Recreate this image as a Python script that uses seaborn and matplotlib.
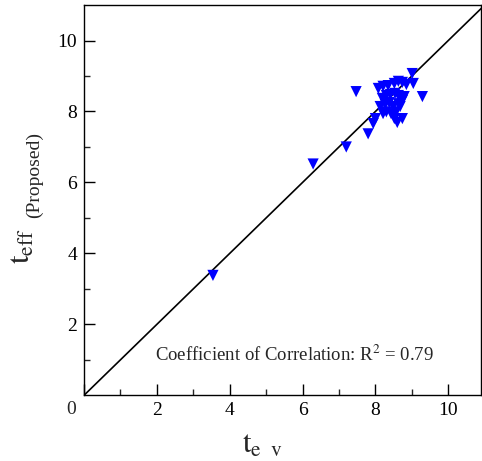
import matplotlib
matplotlib.use("Agg")
import matplotlib.pyplot as plt
import seaborn as sns
import pandas as pd
import numpy as np

# Data
t_ev = [3.54, 6.29, 7.20, 7.47, 7.80, 7.94, 8.00, 9.01, 9.04, 9.29,
        8.08, 8.21, 8.35, 8.52, 8.63, 8.74, 8.85,
        8.19, 8.30, 8.41, 8.54, 8.63, 8.27, 8.38, 8.49, 8.63, 8.74,
        8.30, 8.43, 8.57, 8.68, 8.52, 8.60, 8.74, 8.21, 8.13, 8.79]
t_eff = [3.38, 6.52, 7.00, 8.56, 7.37, 7.66, 7.80, 9.07, 8.79, 8.42,
         8.65, 8.71, 8.73, 8.79, 8.85, 8.82, 8.76,
         8.37, 8.45, 8.48, 8.51, 8.45, 8.20, 8.25, 8.14, 8.22, 8.31,
         7.99, 7.94, 7.99, 8.14, 7.80, 7.69, 7.80, 7.94, 8.14, 8.42]
line_x = [0, 11]
line_y = [0, 11]
x_ticks = [0, 2, 4, 6, 8, 10]
y_ticks = [2, 4, 6, 8, 10]
annotation = "Coefficient of Correlation: R$^2$ = 0.79"

sns.set_theme(style="white")
plt.rcParams['font.family'] = ['Liberation Serif', 'DejaVu Serif']
plt.rcParams['mathtext.fontset'] = 'stix'

df = pd.DataFrame({"t_ev": t_ev, "t_eff": t_eff})
ldf = pd.DataFrame({"x": line_x, "y": line_y})

fig = plt.figure(figsize=(4.82, 4.61), dpi=100)
ax = fig.add_axes([0.1743, 0.1425, 0.998 - 0.1743, 0.989 - 0.1425])

sns.lineplot(data=ldf, x="x", y="y", color="black", linewidth=1.2, ax=ax)
sns.scatterplot(data=df, x="t_ev", y="t_eff", marker="v", color="#0000ff",
                s=65, edgecolor="none", linewidth=0, ax=ax, zorder=3)

ax.set_xlim(0, 10.9)
ax.set_ylim(0, 11)
ax.set_xticks(x_ticks)
ax.set_yticks(y_ticks)
ax.set_xticks(np.arange(1, 11, 2), minor=True)
ax.set_yticks(np.arange(1, 11, 2), minor=True)
ax.set_xticklabels(["" if v == 0 else str(v) for v in x_ticks])
ax.set_yticklabels([str(v) for v in y_ticks])
ax.tick_params(axis="both", which="major", direction="in", length=8, width=1,
               labelsize=14, pad=5, colors="black", bottom=True, left=True)
ax.tick_params(axis="both", which="minor", direction="in", length=4, width=1,
               bottom=True, left=True)
for s in ax.spines.values():
    s.set_visible(True)
    s.set_color("black")
    s.set_linewidth(1.0)
ax.set_xlabel("")
ax.set_ylabel("")

ax.annotate("0", xy=(0, 0), xytext=(-9, -10), textcoords="offset points",
            ha="center", va="center", fontsize=14)

ax.text(0.529, 0.103, annotation, transform=ax.transAxes, ha="center",
        va="center", fontsize=13.5)

fig.text(262 / 482, 1 - 445 / 461, r"$\mathrm{t}_{\mathrm{e\ \ v}}$",
         ha="center", va="center", fontsize=22)
fig.text(22 / 482, 1 - 246 / 461, r"$\mathrm{t}_{\mathrm{eff}}$",
         ha="center", va="center", fontsize=22, rotation=90)
fig.text(34 / 482, 1 - 175 / 461, "(Proposed)",
         ha="center", va="center", fontsize=14, rotation=90)

fig.savefig("out.png", dpi=100)
